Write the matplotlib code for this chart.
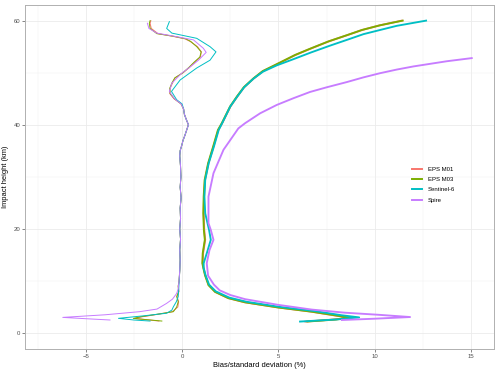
import matplotlib
matplotlib.use("Agg")
import matplotlib.pyplot as plt
from matplotlib.lines import Line2D

plt.rcParams['font.family'] = ['Liberation Sans', 'DejaVu Sans']

series = ["EPS M01", "EPS M03", "Sentinel-6", "Spire"]
colors = ["#F8766D", "#7CAE00", "#00BFC4", "#C77CFF"]

# ---- Bias profiles (height km, value %) ----
bias_h_m01 = [2.3, 2.8, 3.1, 3.6, 4.1, 5.0, 6.0, 7.0, 8.0, 9.0, 10, 12, 14, 16, 18, 20, 22, 24, 26, 28,
              30, 32, 34, 35, 36, 37, 38, 39, 40, 41, 42, 43, 44, 45, 46, 47, 48, 49, 50, 51, 52, 53,
              54, 55, 56, 56.5, 57, 57.5, 58.5, 59.5, 60]
bias_v_m01 = [-1.2, -2.45, -2.1, -1.25, -0.5, -0.22, -0.18, -0.26, -0.16, -0.2, -0.15, -0.12, -0.1, -0.12,
              -0.08, -0.12, -0.08, -0.1, -0.05, -0.1, -0.06, -0.08, -0.12, -0.1, -0.02, 0.05, 0.15, 0.24,
              0.32, 0.22, 0.12, 0.08, -0.05, -0.42, -0.64, -0.62, -0.5, -0.36, 0.05, 0.38, 0.66, 0.95,
              1.0, 0.8, 0.42, 0.15, -0.5, -1.25, -1.6, -1.66, -1.62]

bias_h_m03 = [2.3, 2.8, 3.1, 3.6, 4.1, 5.0, 6.0, 7.0, 8.0, 9.0, 10, 12, 14, 16, 18, 20, 22, 24, 26, 28,
              30, 32, 34, 35, 36, 37, 38, 39, 40, 41, 42, 43, 44, 45, 46, 47, 48, 49, 50, 51, 52, 53,
              54, 55, 56, 56.5, 57, 57.5, 58.5, 59.5, 60]
bias_v_m03 = [-1.05, -2.53, -2.18, -1.3, -0.45, -0.28, -0.2, -0.28, -0.18, -0.2, -0.16, -0.12, -0.1, -0.12,
              -0.08, -0.12, -0.08, -0.1, -0.05, -0.1, -0.06, -0.08, -0.12, -0.1, -0.02, 0.05, 0.15, 0.24,
              0.33, 0.22, 0.12, 0.08, -0.05, -0.4, -0.62, -0.64, -0.53, -0.38, 0.05, 0.35, 0.62, 0.92,
              0.99, 0.76, 0.45, 0.2, -0.45, -1.31, -1.66, -1.7, -1.66]

bias_h_s6 = [2.3, 2.5, 2.82, 3.3, 3.8, 4.4, 5.05, 6.0, 7.0, 8.0, 10, 12, 14, 16, 18, 20, 22, 24, 26, 28,
             30, 32, 34, 35, 36, 37, 38, 39, 40, 41, 42, 43, 44, 44.8, 46.4, 48.6, 50.9, 52.4, 54.0,
             55.0, 56.6, 57.6, 58.5, 59.8]
bias_v_s6 = [-1.66, -2.5, -3.3, -2.0, -0.8, -0.53, -0.45, -0.3, -0.2, -0.18, -0.15, -0.12, -0.1, -0.12,
             -0.08, -0.12, -0.08, -0.1, -0.05, -0.1, -0.06, -0.08, -0.12, -0.1, -0.02, 0.05, 0.15, 0.24,
             0.33, 0.22, 0.12, 0.08, 0.0, -0.28, -0.55, -0.1, 0.76, 1.45, 1.76, 1.45, 0.76, -0.53,
             -0.8, -0.66]

bias_h_spire = [2.5, 2.75, 3.0, 3.5, 4.1, 4.6, 5.7, 6.5, 7.6, 8.5, 10, 12, 14, 16, 18, 20, 22, 24, 26, 28,
                30, 32, 34, 35, 36, 37, 38, 39, 40, 41, 42, 43, 44, 45, 46.4, 48.0, 49.9, 51.2, 52.4,
                53.9, 54.7, 56.3, 57.0, 57.6, 58.5, 59.5]
bias_v_spire = [-3.74, -5.0, -6.19, -4.0, -2.2, -1.3, -0.8, -0.5, -0.28, -0.2, -0.16, -0.12, -0.1, -0.12,
                -0.08, -0.12, -0.08, -0.1, -0.05, -0.1, -0.06, -0.08, -0.12, -0.1, -0.02, 0.05, 0.15,
                0.24, 0.33, 0.22, 0.12, 0.08, -0.05, -0.4, -0.66, -0.53, -0.02, 0.45, 0.85, 1.25, 1.1,
                0.59, -0.4, -1.31, -1.72, -1.8]

# ---- Standard deviation profiles (height km, value %) ----
std_h_m01 = [2.2, 2.6, 2.95, 3.3, 4.1, 4.9, 5.9, 6.7, 7.9, 9.2, 11.1, 12.5, 13.4, 15.3, 17.9, 19.8,
             23.0, 26.2, 29.4, 32.6, 35.8, 39.0, 40.3, 43.5, 45.4, 47.2, 48.9, 50.3, 51.8, 53.4, 54.6,
             56.0, 57.2, 58.2, 59.1, 59.7, 60.0]
std_v_m01 = [6.4, 7.9, 8.65, 8.05, 6.7, 5.0, 3.25, 2.4, 1.72, 1.38, 1.2, 1.12, 1.07, 1.09, 1.2, 1.15,
             1.12, 1.14, 1.19, 1.37, 1.63, 1.88, 2.08, 2.51, 2.86, 3.22, 3.72, 4.2, 5.02, 5.88, 6.66,
             7.6, 8.56, 9.34, 10.26, 11.02, 11.4]

std_h_m03 = [2.2, 2.6, 2.95, 3.3, 4.1, 4.9, 5.9, 6.7, 7.9, 9.2, 11.1, 12.5, 13.4, 15.3, 17.9, 19.8,
             23.0, 26.2, 29.4, 32.6, 35.8, 39.0, 40.3, 43.5, 45.4, 47.2, 48.9, 50.3, 51.8, 53.4, 54.6,
             56.0, 57.2, 58.2, 59.1, 59.7, 60.0]
std_v_m03 = [6.5, 8.0, 8.72, 8.11, 6.73, 5.0, 3.27, 2.4, 1.71, 1.37, 1.19, 1.1, 1.05, 1.07, 1.18, 1.13,
             1.1, 1.12, 1.17, 1.35, 1.61, 1.86, 2.06, 2.49, 2.84, 3.2, 3.7, 4.18, 5.0, 5.86, 6.64,
             7.59, 8.55, 9.33, 10.27, 11.05, 11.45]

std_h_s6 = [2.2, 2.6, 3.0, 3.4, 4.2, 5.0, 6.0, 6.8, 8.0, 9.3, 11.1, 12.5, 13.4, 15.3, 17.9, 19.8,
            23.0, 26.2, 29.4, 32.6, 35.8, 39.0, 40.3, 43.5, 45.4, 47.2, 48.9, 50.2, 51.4, 52.6, 53.9,
            55.2, 56.3, 57.4, 58.2, 59.0, 59.5, 60.0]
std_v_s6 = [6.12, 8.0, 9.19, 8.3, 6.9, 5.1, 3.35, 2.45, 1.75, 1.4, 1.22, 1.12, 1.12, 1.28, 1.49, 1.4,
            1.2, 1.16, 1.2, 1.38, 1.65, 1.9, 2.08, 2.5, 2.86, 3.22, 3.72, 4.2, 4.91, 5.78, 6.7,
            7.68, 8.55, 9.41, 10.27, 11.14, 11.9, 12.66]

std_h_spire = [2.5, 2.75, 3.07, 3.5, 3.9, 4.5, 5.4, 6.5, 7.3, 8.2, 9.3, 11.0, 13.4, 15.9, 17.9, 19.8,
               21.1, 26.2, 30.7, 35.2, 36.1, 39.3, 40.3, 42.2, 43.8, 45.1, 46.3, 47.2, 48.2, 49.1,
               49.9, 50.6, 51.2, 51.7, 52.2, 52.8]
std_v_spire = [8.29, 10.0, 11.83, 10.2, 8.46, 6.73, 5.0, 3.27, 2.5, 1.95, 1.65, 1.35, 1.28, 1.42, 1.63,
               1.49, 1.37, 1.37, 1.63, 2.15, 2.32, 2.92, 3.27, 4.05, 4.91, 5.78, 6.64, 7.51, 8.55,
               9.41, 10.27, 11.14, 12.0, 12.87, 13.74, 15.03]

bias_h = [bias_h_m01, bias_h_m03, bias_h_s6, bias_h_spire]
bias_v = [bias_v_m01, bias_v_m03, bias_v_s6, bias_v_spire]
std_h = [std_h_m01, std_h_m03, std_h_s6, std_h_spire]
std_v = [std_v_m01, std_v_m03, std_v_s6, std_v_spire]

xticks = [-5, 0, 5, 10, 15]
yticks = [0, 20, 40, 60]

fig = plt.figure(figsize=(5.0, 3.71), dpi=100)
ax = fig.add_axes([25 / 500, 22 / 371, 469.3 / 500, 344 / 371])

for c, bh, bv in zip(colors, bias_h, bias_v):
    ax.plot(bv, bh, color=c, lw=0.7, solid_joinstyle='round', zorder=3)
for c, sh, sv in zip(colors, std_h, std_v):
    ax.plot(sv, sh, color=c, lw=1.35, solid_joinstyle='round', zorder=3)

ax.set_xlim(-8.15, 16.2)
ax.set_ylim(-3.07, 63.0)
ax.set_xticks(xticks)
ax.set_yticks(yticks)
ax.set_xticks([-7.5, -2.5, 2.5, 7.5, 12.5], minor=True)
ax.set_yticks([10, 30, 50], minor=True)
ax.grid(which='major', color='#EBEBEB', lw=0.6, zorder=0)
ax.grid(which='minor', color='#F2F2F2', lw=0.35, zorder=0)
ax.set_axisbelow(True)
ax.tick_params(which='minor', length=0)
ax.tick_params(which='major', length=2.0, width=0.5, color='#555555',
               labelsize=4.3, labelcolor='#4D4D4D', pad=1.5)
for s in ax.spines.values():
    s.set_color('#B0B0B0')
    s.set_linewidth(0.7)

ax.set_xlabel("Bias/standard deviation (%)", fontsize=5.4, color='black', labelpad=2)
ax.set_ylabel("Impact height (km)", fontsize=5.4, color='black', labelpad=3)

handles = [Line2D([0], [0], color=c, lw=1.4) for c in colors]
fig.legend(handles, series, loc='upper left', bbox_to_anchor=(412 / 500, 1 - 166.5 / 371),
           frameon=False, fontsize=4.3, handlelength=1.75, handletextpad=0.85,
           labelspacing=0.87, borderpad=0, borderaxespad=0)

fig.savefig("out.png", dpi=100)
